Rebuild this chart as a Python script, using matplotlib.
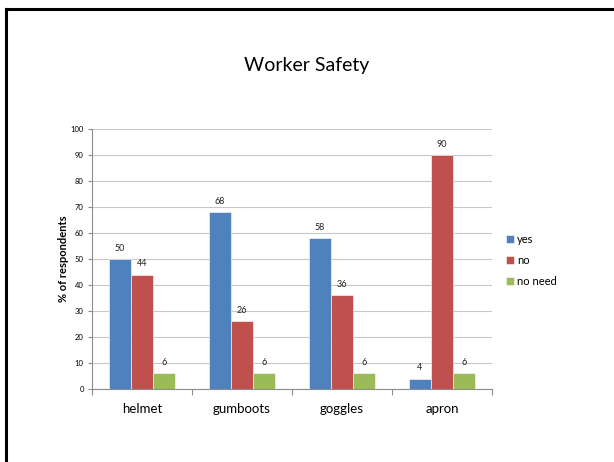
import numpy as np
import matplotlib.pyplot as plt
from matplotlib.lines import Line2D

plt.rcParams['font.family'] = ['Lato', 'DejaVu Sans']

# survey results, % of respondents
items = ['helmet', 'gumboots', 'goggles', 'apron']
yes = [50, 68, 58, 4]
no = [44, 26, 36, 90]
no_need = [6, 6, 6, 6]
series = ['yes', 'no', 'no need']
colors = ['#4F81BD', '#C0504D', '#9BBB59']

fig = plt.figure(figsize=(6.14, 4.62), dpi=100)
ax = fig.add_axes([92 / 614, 1 - 389 / 462, 400 / 614, 260 / 462])

x = np.arange(len(items))
w = 0.22
for k, (vals, name, c) in enumerate(zip([yes, no, no_need], series, colors)):
    pos = x + (k - 1) * w
    ax.bar(pos, vals, w, color=c, label=name, zorder=3,
           edgecolor='white', linewidth=0.4)
    for xb, v in zip(pos, vals):
        ax.text(xb, v + 2.4, str(v), ha='center', va='bottom', fontsize=6.5, color='#222222')

ax.set_xlim(-0.5, len(items) - 0.5)
ax.set_ylim(0, 100)
ax.set_yticks(range(0, 101, 10))
ax.yaxis.grid(True, color='#c8c8c8', linewidth=0.8, zorder=0)
ax.set_axisbelow(True)

ax.set_xticks(x)
ax.set_xticklabels(items, fontsize=9.5)
ax.set_xticks(np.arange(-0.5, len(items)), minor=True)
ax.tick_params(axis='x', which='major', length=0, pad=10)
ax.tick_params(axis='x', which='minor', length=4, color='#8c8c8c', width=0.8)
ax.tick_params(axis='y', labelsize=5.5, length=3, color='#8c8c8c', width=0.8, pad=3)

for s in ['top', 'right']:
    ax.spines[s].set_visible(False)
for s in ['left', 'bottom']:
    ax.spines[s].set_color('#8c8c8c')
    ax.spines[s].set_linewidth(0.8)

ax.set_ylabel('% of respondents', fontsize=8, fontweight='bold', labelpad=1)

fig.text(0.5, 1 - 65 / 462, 'Worker Safety', ha='center', va='center', fontsize=14)

ax.legend(loc='center left', bbox_to_anchor=(1.01, 0.495), frameon=False,
          fontsize=8, handlelength=0.7, handleheight=0.7, handletextpad=0.3,
          labelspacing=0.9)

# frame lines along the top and left of the slide
fig.add_artist(Line2D([6 / 614, 6 / 614], [0, 1 - 9 / 462], color='black', linewidth=2.2,
                      transform=fig.transFigure))
fig.add_artist(Line2D([6 / 614, 1], [1 - 9 / 462, 1 - 9 / 462], color='black', linewidth=2.2,
                      transform=fig.transFigure))

fig.savefig('out.png', dpi=100)
